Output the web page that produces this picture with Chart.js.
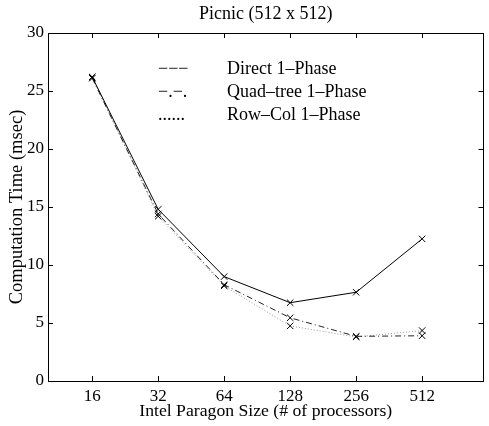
<!DOCTYPE html>
<html><head><meta charset="utf-8">
<script src="https://cdn.jsdelivr.net/npm/chart.js@4.4.1/dist/chart.umd.min.js"></script>
<style>html,body{margin:0;padding:0;background:#fff}#wrap{width:489px;height:426px}</style>
</head><body><div id="wrap"><canvas id="c" width="489" height="426"></canvas></div>
<script>
const categories = ['16','32','64','128','256','512'];
const xPositions = [4,5,6,7,8,9];
const direct = [26.2, 14.8, 9.0, 6.75, 7.65, 12.25];
const quadTree = [26.1, 14.4, 8.3, 5.45, 3.85, 3.9];
const rowCol = [26.2, 14.2, 8.2, 4.75, 3.8, 4.35];
const yTicks = [0,5,10,15,20,25,30];
const legendSamples = ['\u2212\u2212\u2212', '\u2212.\u2212.', '......'];
const seriesNames = ['Direct 1\u2013Phase', 'Quad\u2013tree 1\u2013Phase', 'Row\u2013Col 1\u2013Phase'];

const serif = "'Liberation Serif','Times New Roman',serif";
function pts(vals){ return vals.map((v,i)=>({x:xPositions[i], y:v})); }

const boxPlugin = {
  id:'box',
  afterDraw(chart){
    const {ctx, chartArea:a, scales:{x,y}} = chart;
    ctx.save();
    ctx.strokeStyle='#000'; ctx.lineWidth=1;
    ctx.strokeRect(Math.round(a.left)+0.5, Math.round(a.top)+0.5, Math.round(a.right-a.left)-1, Math.round(a.bottom-a.top));
    const L=5;
    ctx.beginPath();
    xPositions.forEach(v=>{
      const px=Math.round(x.getPixelForValue(v))+0.5;
      ctx.moveTo(px,a.bottom); ctx.lineTo(px,a.bottom-L);
      ctx.moveTo(px,a.top); ctx.lineTo(px,a.top+L);
    });
    yTicks.forEach(v=>{
      const py=Math.round(y.getPixelForValue(v))+0.5;
      ctx.moveTo(a.left,py); ctx.lineTo(a.left+L,py);
      ctx.moveTo(a.right,py); ctx.lineTo(a.right-L,py);
    });
    ctx.stroke();
    // legend
    ctx.fillStyle='#000';
    ctx.font = '18px '+serif;
    ctx.textBaseline='middle';
    const rows=[69,92,115.5];
    seriesNames.forEach((n,i)=>{
      ctx.textAlign='left';
      ctx.fillText(legendSamples[i], 158, rows[i]);
      ctx.fillText(n, 227, rows[i]);
    });
    ctx.restore();
  }
};

const common = {fill:false, tension:0, pointStyle:'crossRot', pointRadius:4.5, pointBorderColor:'#000', pointBorderWidth:1, borderWidth:1};
new Chart(document.getElementById('c'), {
  type:'line',
  data:{
    datasets:[
      Object.assign({label:seriesNames[0], data:pts(direct), borderColor:'#000'}, common),
      Object.assign({label:seriesNames[1], data:pts(quadTree), borderColor:'#222', borderDash:[6,3,1,3]}, common),
      Object.assign({label:seriesNames[2], data:pts(rowCol), borderColor:'#999', borderDash:[1,2]}, common)
    ]
  },
  options:{
    responsive:false, animation:false, devicePixelRatio:1,
    layout:{padding:{left:0,right:1,top:0,bottom:0}},
    plugins:{
      legend:{display:false}, tooltip:{enabled:false},
      title:{display:true, fullSize:false, text:'Picnic (512 x 512)', color:'#000', font:{family:serif, size:18, weight:'normal'}, padding:{top:3,bottom:8.4}}
    },
    scales:{
      x:{type:'linear', min:3.33, max:9.93,
        afterBuildTicks(s){ s.ticks = xPositions.map(v=>({value:v})); },
        afterFit(s){ s.height=45; },
        ticks:{color:'#000', font:{family:serif,size:17}, padding:5, maxRotation:0, autoSkip:false,
          callback:(v)=>{ const i=xPositions.indexOf(v); return i>=0?categories[i]:''; }},
        grid:{display:false, drawTicks:false}, border:{display:false},
        title:{display:true, text:'Intel Paragon Size (# of processors)', color:'#000', font:{family:serif,size:17.7}, padding:{top:0,bottom:4}}
      },
      y:{min:0, max:30,
        afterBuildTicks(s){ s.ticks = yTicks.map(v=>({value:v})); },
        afterFit(s){ s.width=48; },
        ticks:{color:'#000', font:{family:serif,size:17}, padding:4},
        grid:{display:false, drawTicks:false}, border:{display:false},
        title:{display:true, text:'Computation Time (msec)', color:'#000', font:{family:serif,size:18.5}, padding:{top:6.5,bottom:0}}
      }
    }
  },
  plugins:[boxPlugin]
});
</script></body></html>
